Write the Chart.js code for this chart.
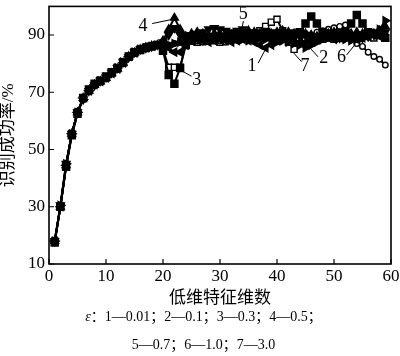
<!DOCTYPE html>
<html><head><meta charset="utf-8">
<script src="https://cdn.jsdelivr.net/npm/chart.js@4/dist/chart.umd.min.js"></script>
<style>
html,body{margin:0;padding:0;background:#fff;}
#wrap{width:400px;height:356px;position:relative;overflow:hidden;}
.cap{position:absolute;left:0;width:407px;text-align:center;font:14px 'Liberation Serif','Noto Sans CJK SC',serif;line-height:20px;color:#000;white-space:nowrap;}
</style>
</head><body><div id="wrap"><canvas id="c" width="400" height="356"></canvas>
<div class="cap" id="cap1" style="top:307px"></div>
<div class="cap" id="cap2" style="top:335px"></div>
</div>
<script>
const dims = [1,2,3,4,5,6,7,8,9,10,11,12,13,14,15,16,17,18,19,20,21,22,23,24,25,26,27,28,29,30,31,32,33,34,35,36,37,38,39,40,41,42,43,44,45,46,47,48,49,50,51,52,53,54,55,56,57,58,59];
const seriesNames = ['1','2','3','4','5','6','7'];
const s1 = [18,30,44.5,55.5,63,68,70.5,72.7,73.8,75,76.6,78.2,80.3,82.5,83.8,85,85.7,86.2,86.5,86.5,85.5,84,84,86.5,88,88.5,88,87.5,88,88.5,88,87.5,88,88.5,88,87.5,86.5,85.5,86.5,88,89,88.5,88,87.5,87.5,88,89,89.5,89,88.5,89,89.5,89,88.5,89,89.5,90,89.5,90];
const s2 = [18,30.5,45,55.5,63,67.5,70.5,72.5,74,75.2,76.8,78.5,80.5,82.3,84,85,85.5,86,86.4,87,86.5,87,87.5,88,88.5,89,88.5,88,89,89.5,89,88.5,89,88.5,88,88.5,89,88.5,88,87.5,88,87.5,87,86.5,85.5,86.5,87.5,88.5,89,89.5,89,88.5,88,88.5,89,90,90.5,92,95];
const s3 = [17.5,30,44,55,62.5,68,71,73,74,75.5,77,78.5,80.5,82.5,84,84.8,85.5,86,86.5,84.5,76,73,78.5,86.5,88,89,89.5,89,88.5,89,89.5,89,88.5,89,89.5,89,89.5,90,89.5,90,90.5,90,90.5,91,94,96.5,94,91,90.5,90,90.5,91,94,97,94,91,90.5,90,89];
const s4 = [18,30,44.5,55.5,63,68,70.5,72.7,73.8,75,76.6,78.2,80.3,82.5,83.8,85,85.7,86.2,86.5,88,92,96,92,89.5,90.5,91,90.5,90,90.5,90,89.5,90,90.5,91,91.5,91,90.5,90,90.5,91,91.5,91,90.5,90,90.5,90,89.5,90,90.5,91,90.5,90,90.5,91,90.5,90,90.5,91.5,93];
const s5 = [18,30.5,45,55.5,63,67.5,70.5,72.5,74,75.2,76.8,78.5,80.5,82.3,84,85,85.5,86,86.6,87.5,90,92.5,90,89.5,90,90.5,91,92,92.5,92,91.5,91,91.5,92,91,90.5,91,91.5,91,90.5,90,89.5,89,89.5,90,89.5,89,89.5,90,89.5,89,89.5,90,89.5,89,89.5,90,90.5,91];
const s6 = [17.5,30,44,55,62.5,68,71,73,74,75.5,77,78.5,80.5,82.5,84,84.8,85.5,86,86.3,86,86.5,87,87.5,88,88.5,88,87.5,88,88.5,88,87.5,88,88.5,89,88.5,88,88.5,89,89.5,89,88.5,89,89.5,90,90.5,90,91,91.5,92,92.5,93,93.5,90,87,86,84,82.5,81.5,79.5];
const s7 = [18,30,44.5,55.5,63,68,70.5,72.7,73.8,75,76.6,78.2,80.3,82.5,83.8,85,85.7,86.2,86.5,85,78.7,78.7,78.7,87,88,87.5,88,88.5,88,87.5,88,88.5,89,89.5,90,90.5,91.5,93,94.5,95.5,91.5,87.5,85,87,88,88.5,88,88.5,89,88.5,89,89.5,89,89.5,90,89.5,89,91,89];
const xTicks = [0,10,20,30,40,50,60];
const yTicks = [10,30,50,70,90];
const xTitle = '低维特征维数';
const yTitle = '识别成功率/%';
const captionLine1 = '<i>ε</i>：1—0.01；2—0.1；3—0.3；4—0.5；';
const captionLine2 = '5—0.7；6—1.0；7—3.0';
// callouts: label text, label position, leader start, leader end (data units)
const calloutText = ['1','2','3','4','5','6','7'];
const calloutLabelX = [35.6,48.2,25.9,16.5,34.1,51.3,44.9];
const calloutLabelY = [79.0,81.8,74.1,93.2,97.2,82.4,79.0];
const calloutFromX = [36.7,47.2,25.0,18.1,34.1,52.2,44.3];
const calloutFromY = [80.2,82.4,75.6,94.0,94.9,83.0,80.7];
const calloutToX = [38.1,45.5,23.0,21.2,33.8,53.7,42.9];
const calloutToY = [85.5,86.1,77.8,95.3,91.8,86.7,83.8];

document.getElementById('cap1').innerHTML = captionLine1;
document.getElementById('cap2').textContent = captionLine2;

const seriesValues = [s1,s2,s3,s4,s5,s6,s7];
const styles = [
  {pointStyle:'triangle', rot:-90, fill:'#000', r:4.5},
  {pointStyle:'triangle', rot:90, fill:'#000', r:4.5},
  {pointStyle:'rect', rot:0, fill:'#000', r:5},
  {pointStyle:'triangle', rot:0, fill:'#000', r:4.5},
  {pointStyle:'triangle', rot:180, fill:'#000', r:4.5},
  {pointStyle:'circle', rot:0, fill:'#fff', r:2.8},
  {pointStyle:'rect', rot:0, fill:'#fff', r:4.3}
];
const datasets = seriesValues.map((vals,i)=>({
  label: seriesNames[i],
  data: dims.map((d,j)=>({x:d, y:vals[j]})),
  borderColor:'#000',
  borderWidth:2,
  tension:0,
  pointStyle: styles[i].pointStyle,
  pointRotation: styles[i].rot,
  pointRadius: styles[i].r,
  pointBackgroundColor: styles[i].fill,
  pointBorderColor:'#000',
  pointBorderWidth:1.4,
  fill:false
}));

const FONT = "'Liberation Serif', 'Noto Sans CJK SC', serif";

const framePlugin = {
  id:'frame',
  afterDraw(chart){
    const {ctx, chartArea:a, scales:{x,y}} = chart;
    ctx.save();
    ctx.strokeStyle='#000';
    ctx.lineWidth=1.2;
    ctx.beginPath();
    xTicks.forEach(v=>{const px=x.getPixelForValue(v); ctx.moveTo(px,a.bottom); ctx.lineTo(px,a.bottom-5);});
    yTicks.forEach(v=>{const py=y.getPixelForValue(v); ctx.moveTo(a.left,py); ctx.lineTo(a.left+5,py);});
    ctx.stroke();
    ctx.lineWidth=1.6;
    ctx.strokeRect(a.left, a.top, a.right-a.left, a.bottom-a.top);
    ctx.lineWidth=1;
    ctx.beginPath();
    calloutText.forEach((t,i)=>{
      ctx.moveTo(x.getPixelForValue(calloutFromX[i]), y.getPixelForValue(calloutFromY[i]));
      ctx.lineTo(x.getPixelForValue(calloutToX[i]), y.getPixelForValue(calloutToY[i]));
    });
    ctx.stroke();
    ctx.fillStyle='#000';
    ctx.font = "18px " + FONT;
    ctx.textAlign='center';
    ctx.textBaseline='middle';
    calloutText.forEach((t,i)=>{
      ctx.fillText(t, x.getPixelForValue(calloutLabelX[i]), y.getPixelForValue(calloutLabelY[i]));
    });
    ctx.restore();
  }
};

new Chart(document.getElementById('c'), {
  type:'line',
  data:{datasets},
  options:{
    responsive:false,
    animation:false,
    devicePixelRatio:1,
    layout:{padding:{top:1,right:9,bottom:49,left:0}},
    plugins:{legend:{display:false}, tooltip:{enabled:false}, title:{display:false}},
    scales:{
      x:{
        type:'linear', min:0, max:60,
        afterBuildTicks(s){ s.ticks = xTicks.map(v=>({value:v})); },
        afterFit(s){ s.height = 43; s.paddingLeft = 0; s.paddingRight = 0; },
        grid:{display:true, drawOnChartArea:false, drawTicks:false},
        border:{display:false},
        ticks:{color:'#000', font:{family:FONT, size:17}, padding:2.5, maxRotation:0, autoSkip:false},
        title:{display:true, text:xTitle, color:'#000', font:{family:FONT, size:17, lineHeight:1}, padding:0}
      },
      y:{
        type:'linear', min:10, max:100,
        afterBuildTicks(s){ s.ticks = yTicks.map(v=>({value:v})); },
        afterFit(s){ s.width = 49; s.paddingTop = 0; s.paddingBottom = 0; },
        grid:{display:true, drawOnChartArea:false, drawTicks:false},
        border:{display:false},
        ticks:{color:'#000', font:{family:FONT, size:17}, padding:4, autoSkip:false},
        title:{display:true, text:yTitle, color:'#000', font:{family:FONT, size:17, lineHeight:1}, padding:0}
      }
    }
  },
  plugins:[framePlugin]
});
</script>
</body></html>
